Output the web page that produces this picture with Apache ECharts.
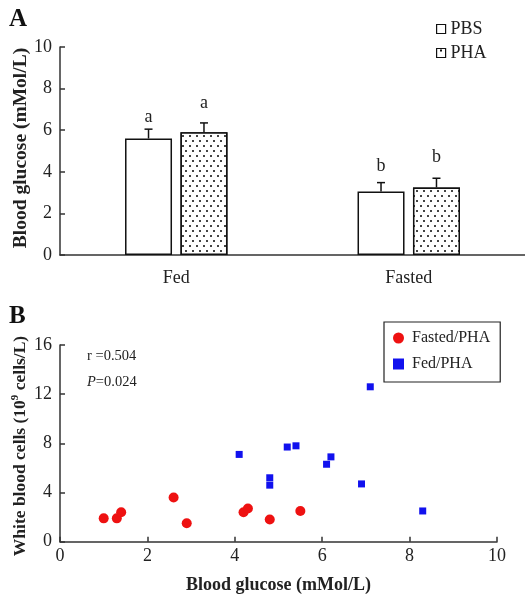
<!DOCTYPE html>
<html>
<head>
<meta charset="utf-8">
<script src="https://cdn.jsdelivr.net/npm/echarts@6/dist/echarts.min.js"></script>
<style>
html,body{margin:0;padding:0;background:#fff;}
#chart{width:525px;height:596px;}
</style>
</head>
<body>
<div id="chart"></div>
<script>
// ---- Panel A data ----
var categories = ['Fed', 'Fasted'];
var pbsValues = [5.6, 3.05];
var pbsErrors = [0.45, 0.43];
var phaValues = [5.9, 3.25];
var phaErrors = [0.45, 0.44];
var pbsLetters = ['a', 'b'];
var phaLetters = ['a', 'b'];
var pbsLetterY = [6.62, 4.25];   // letter positions (data units)
var phaLetterY = [7.28, 4.72];
var yTicksA = [0, 2, 4, 6, 8, 10];

// ---- Panel B data ----
var fastedPHA = [[1.0, 1.9], [1.3, 1.9], [1.4, 2.4], [2.6, 3.6], [2.9, 1.5], [4.2, 2.4], [4.3, 2.7], [4.8, 1.8], [5.5, 2.5]];
var fedPHA = [[4.1, 7.1], [4.8, 5.2], [4.8, 4.6], [5.2, 7.7], [5.4, 7.8], [6.1, 6.3], [6.2, 6.9], [6.9, 4.7], [7.1, 12.6], [8.3, 2.5]];
var xTicksB = [0, 2, 4, 6, 8, 10];
var yTicksB = [0, 4, 8, 12, 16];
var statsText = ['r =0.504', 'P=0.024'];

var FONT = '"Liberation Serif", "Times New Roman", serif';
var TXT = '#222';
var AX = '#333';
var BAR_W = 47;
var BAR_GAP = 0.18;

var chart = echarts.init(document.getElementById('chart'), null, {renderer: 'canvas'});

function errSeries(vals, errs, letters, letterY, sign, name) {
  return {
    type: 'custom',
    name: name + '-err',
    xAxisIndex: 0, yAxisIndex: 0,
    z: 5,
    silent: true,
    data: vals.map(function (v, i) { return [i, v, errs[i], letterY[i]]; }),
    renderItem: function (params, api) {
      var i = api.value(0), v = api.value(1), e = api.value(2), ly = api.value(3);
      var base = api.coord([i, v]);
      var top = api.coord([i, v + e]);
      var lp = api.coord([i, ly]);
      var off = sign * (BAR_W + BAR_W * BAR_GAP) / 2;
      var cx = base[0] + off;
      return {
        type: 'group',
        children: [
          {type: 'line', shape: {x1: cx, y1: base[1], x2: cx, y2: top[1]}, style: {stroke: '#111', lineWidth: 1.5}},
          {type: 'line', shape: {x1: cx - 4, y1: top[1], x2: cx + 4, y2: top[1]}, style: {stroke: '#111', lineWidth: 1.5}},
          {type: 'text', x: cx, y: lp[1], style: {text: letters[params.dataIndex], font: '18px ' + FONT, fill: TXT, align: 'center', verticalAlign: 'middle'}}
        ]
      };
    }
  };
}

var decal = {
  symbol: 'rect',
  symbolSize: 1,
  color: '#444',
  backgroundColor: '#fff',
  dashArrayX: [[1.4, 4.6], [0, 3, 1.4, 1.6]],
  dashArrayY: [1.4, 2.6],
  rotation: 0
};

var option = {
  animation: false,
  backgroundColor: '#fff',
  textStyle: {fontFamily: FONT, color: TXT},
  grid: [
    {left: 60, top: 47, width: 466, height: 208},
    {left: 60, top: 345, width: 437, height: 196.7}
  ],
  legend: [
    {
      orient: 'vertical', left: 431, top: 15, itemGap: 6,
      itemWidth: 9, itemHeight: 9, icon: 'rect',
      textStyle: {fontFamily: FONT, fontSize: 18, color: TXT},
      data: [
        {name: 'PBS', itemStyle: {color: '#fff', borderColor: '#111', borderWidth: 1.2, decal: 'none'}},
        {name: 'PHA', itemStyle: {color: '#fff', borderColor: '#111', borderWidth: 1.2, decal: 'none'}}
      ]
    },
    {
      orient: 'vertical', left: 384, top: 322,
      padding: [8, 10, 10, 9],
      borderColor: '#222', borderWidth: 1.2,
      itemWidth: 11, itemHeight: 11, itemGap: 10,
      textStyle: {fontFamily: FONT, fontSize: 16, color: TXT, padding: [0, 0, 0, 3]},
      data: [
        {name: 'Fasted/PHA', icon: 'circle'},
        {name: 'Fed/PHA', icon: 'path://M2,2L9,2L9,9L2,9Z'}
      ]
    }
  ],
  xAxis: [
    {
      gridIndex: 0, type: 'category', data: categories,
      axisLine: {lineStyle: {color: AX, width: 1.5}},
      axisTick: {inside: true, length: 4, lineStyle: {color: AX, width: 1.5}},
      axisLabel: {fontFamily: FONT, fontSize: 18, color: TXT, margin: 14}
    },
    {
      gridIndex: 1, type: 'value', min: 0, max: 10, interval: 2,
      axisLine: {lineStyle: {color: AX, width: 1.5}},
      axisTick: {inside: true, length: 5, lineStyle: {color: AX, width: 1.5}},
      axisLabel: {fontFamily: FONT, fontSize: 18, color: TXT, margin: 6,
        formatter: function (v) { return xTicksB.indexOf(v) >= 0 ? String(v) : ''; }},
      splitLine: {show: false},
      name: 'Blood glucose (mMol/L)', nameLocation: 'middle', nameGap: 35,
      nameTextStyle: {fontFamily: FONT, fontSize: 18, fontWeight: 'bold', color: TXT}
    }
  ],
  yAxis: [
    {
      gridIndex: 0, type: 'value', min: 0, max: 10, interval: 2,
      axisLine: {show: true, lineStyle: {color: AX, width: 1.5}},
      axisTick: {show: true, inside: true, length: 5, lineStyle: {color: AX, width: 1.5}},
      axisLabel: {fontFamily: FONT, fontSize: 18, color: TXT, margin: 8,
        formatter: function (v) { return yTicksA.indexOf(v) >= 0 ? String(v) : ''; }},
      splitLine: {show: false}
    },
    {
      gridIndex: 1, type: 'value', min: 0, max: 16, interval: 4,
      axisLine: {show: true, lineStyle: {color: AX, width: 1.5}},
      axisTick: {show: true, inside: true, length: 5, lineStyle: {color: AX, width: 1.5}},
      axisLabel: {fontFamily: FONT, fontSize: 18, color: TXT, margin: 8,
        formatter: function (v) { return yTicksB.indexOf(v) >= 0 ? String(v) : ''; }},
      splitLine: {show: false}
    }
  ],
  series: [
    {
      name: 'PBS', type: 'bar', xAxisIndex: 0, yAxisIndex: 0,
      data: pbsValues, barWidth: BAR_W, barGap: (BAR_GAP * 100) + '%',
      itemStyle: {color: '#fff', borderColor: '#111', borderWidth: 1.5}
    },
    {
      name: 'PHA', type: 'bar', xAxisIndex: 0, yAxisIndex: 0,
      data: phaValues, barWidth: BAR_W,
      itemStyle: {color: '#fff', borderColor: '#111', borderWidth: 1.5, decal: decal}
    },
    errSeries(pbsValues, pbsErrors, pbsLetters, pbsLetterY, -1, 'PBS'),
    errSeries(phaValues, phaErrors, phaLetters, phaLetterY, 1, 'PHA'),
    {
      name: 'Fasted/PHA', type: 'scatter', xAxisIndex: 1, yAxisIndex: 1,
      symbol: 'circle', symbolSize: 10, data: fastedPHA,
      itemStyle: {color: '#ee1111', opacity: 1}
    },
    {
      name: 'Fed/PHA', type: 'scatter', xAxisIndex: 1, yAxisIndex: 1,
      symbol: 'rect', symbolSize: 7, data: fedPHA,
      itemStyle: {color: '#1111ee', opacity: 1}
    }
  ],
  graphic: [
    {type: 'text', left: 9, top: 7, style: {text: 'A', font: 'bold 25px ' + FONT, fill: '#111'}},
    {type: 'text', left: 9, top: 304, style: {text: 'B', font: 'bold 25px ' + FONT, fill: '#111'}},
    {type: 'rect', shape: {x: 440, y: 49.5, width: 2, height: 2}, style: {fill: '#111'}, z: 100},
    {type: 'text', x: 21, y: 148, rotation: Math.PI / 2,
      style: {text: 'Blood glucose (mMol/L)', font: 'bold 19.5px ' + FONT, fill: TXT, align: 'center', verticalAlign: 'middle'}},
    {type: 'text', x: 20, y: 446, rotation: Math.PI / 2,
      style: {
        text: '{b|White blood cells (10}{s|9}{b| cells/L)}',
        align: 'center', verticalAlign: 'middle',
        rich: {
          b: {font: 'bold 17.5px ' + FONT, fill: TXT, color: TXT},
          s: {font: 'bold 11px ' + FONT, fill: TXT, color: TXT, verticalAlign: 'top', padding: [0, 0, 9, 0]}
        }
      }},
    {type: 'text', x: 87, y: 356, style: {text: statsText[0], font: '14.5px ' + FONT, fill: TXT, verticalAlign: 'middle'}},
    {type: 'text', x: 87, y: 382,
      style: {
        text: '{i|P}{n|' + statsText[1].slice(1) + '}',
        verticalAlign: 'middle',
        rich: {
          i: {font: 'italic 14.5px ' + FONT, fill: TXT, color: TXT},
          n: {font: '14.5px ' + FONT, fill: TXT, color: TXT}
        }
      }}
  ]
};

chart.setOption(option);
</script>
</body>
</html>
